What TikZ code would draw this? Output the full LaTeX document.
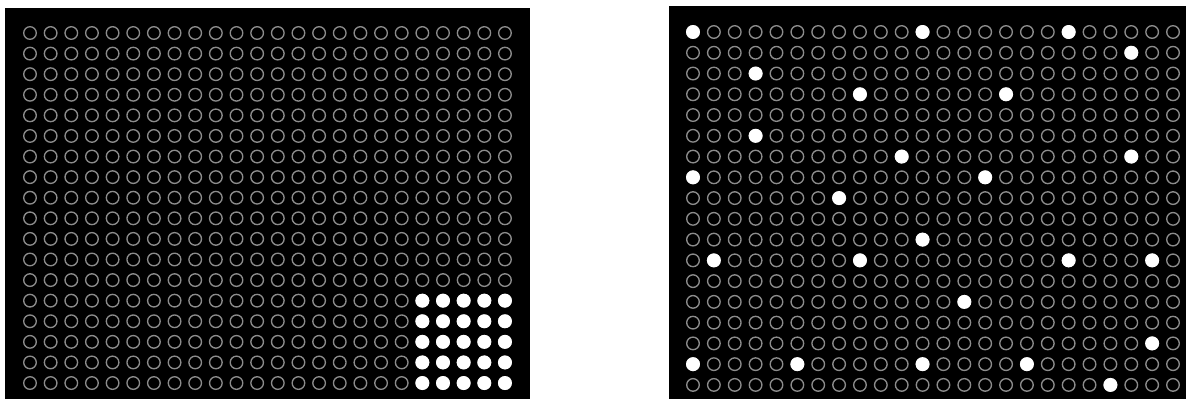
\documentclass[tikz,border=0pt]{standalone}
\definecolor{ring}{RGB}{140,140,140}
\begin{document}
\begin{tikzpicture}[x=1pt,y=-1pt,
  panel/.style={fill=black,draw=none},
  hole/.style={circle,draw=ring,line width=1.35pt,minimum size=12.6pt,inner sep=0pt},
  lit/.style={circle,fill=white,draw=white,line width=1.35pt,minimum size=12.6pt,inner sep=0pt}]
\useasboundingbox (0,0) rectangle (1195,399);
\fill[panel] (5,8) rectangle (530,399);
\fill[panel] (669,6) rectangle (1186,399);
\foreach \r in {0,...,17}{
  \foreach \c in {0,...,23}{
    \node[hole] (L-\r-\c) at ({30+20.65*\c},{33+20.59*\r}) {};
    \node[hole] (R-\r-\c) at ({693+20.87*\c},{32+20.76*\r}) {};
  }
}
\foreach \r in {13,...,17}{
  \foreach \c in {19,...,23}{
    \node[lit] (LF-\r-\c) at (L-\r-\c) {};
  }
}
\foreach \r/\c in {0/0,0/11,0/18,1/21,2/3,3/8,3/15,5/3,6/10,6/21,7/0,7/14,8/7,10/11,11/1,11/8,11/18,11/22,13/13,15/22,16/0,16/5,16/11,16/16,17/20}{
  \node[lit] (RF-\r-\c) at (R-\r-\c) {};
}
\end{tikzpicture}
\end{document}
